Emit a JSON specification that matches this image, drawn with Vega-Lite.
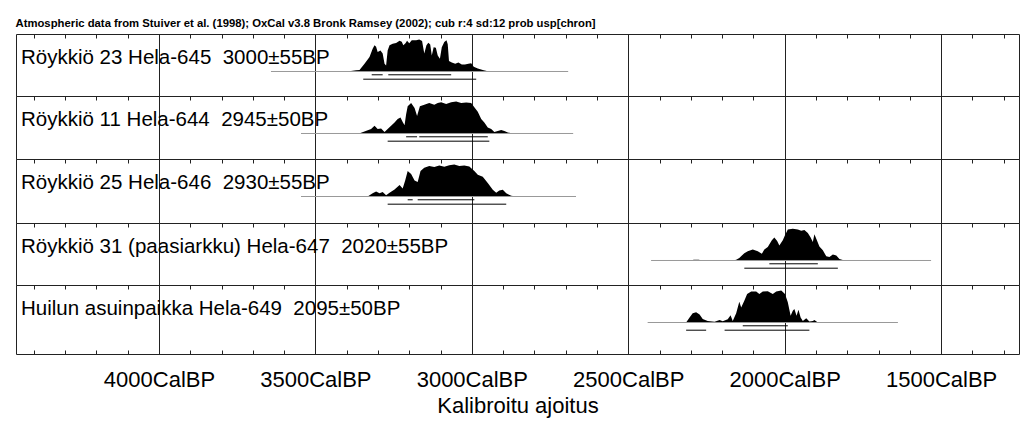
{
  "$schema": "https://vega.github.io/schema/vega-lite/v6.json",
  "padding": {"left": 15, "top": 17, "right": 10, "bottom": 5},
  "title": {"text": "Atmospheric data from Stuiver et al. (1998); OxCal v3.8 Bronk Ramsey (2002); cub r:4 sd:12 prob usp[chron]", "anchor": "start", "fontSize": 11.3, "fontWeight": "bold", "font": "Liberation Sans", "offset": 4, "color": "#000"},
  "spacing": 0,
  "bounds": "flush",
  "config": {
    "view": {"stroke": "#222", "strokeWidth": 1},
    "font": "Liberation Sans",
    "title": {"font": "Liberation Sans"}
  },
  "datasets": {
    "dens": [
      {"s":1,"year":3397,"p":0},{"s":1,"year":3370,"p":0.04},{"s":1,"year":3359,"p":0.05},{"s":1,"year":3343,"p":0.24},{"s":1,"year":3327,"p":0.45},{"s":1,"year":3317,"p":0.71},{"s":1,"year":3311,"p":0.82},{"s":1,"year":3306,"p":0.77},{"s":1,"year":3301,"p":0.61},{"s":1,"year":3292,"p":0.66},{"s":1,"year":3285,"p":0.56},{"s":1,"year":3279,"p":0.24},{"s":1,"year":3274,"p":0.19},{"s":1,"year":3269,"p":0.66},{"s":1,"year":3263,"p":0.82},{"s":1,"year":3253,"p":0.87},{"s":1,"year":3242,"p":0.89},{"s":1,"year":3231,"p":0.96},{"s":1,"year":3224,"p":0.93},{"s":1,"year":3219,"p":0.82},{"s":1,"year":3212,"p":0.88},{"s":1,"year":3207,"p":0.96},{"s":1,"year":3200,"p":0.88},{"s":1,"year":3192,"p":0.98},{"s":1,"year":3178,"p":0.98},{"s":1,"year":3168,"p":1.0},{"s":1,"year":3159,"p":0.95},{"s":1,"year":3152,"p":0.56},{"s":1,"year":3145,"p":0.82},{"s":1,"year":3139,"p":0.9},{"s":1,"year":3133,"p":0.84},{"s":1,"year":3128,"p":0.5},{"s":1,"year":3122,"p":0.76},{"s":1,"year":3115,"p":0.74},{"s":1,"year":3109,"p":0.5},{"s":1,"year":3102,"p":0.4},{"s":1,"year":3096,"p":0.76},{"s":1,"year":3088,"p":0.92},{"s":1,"year":3081,"p":0.98},{"s":1,"year":3077,"p":0.85},{"s":1,"year":3073,"p":0.33},{"s":1,"year":3064,"p":0.28},{"s":1,"year":3053,"p":0.24},{"s":1,"year":3043,"p":0.28},{"s":1,"year":3032,"p":0.22},{"s":1,"year":3022,"p":0.22},{"s":1,"year":3011,"p":0.24},{"s":1,"year":3002,"p":0.26},{"s":1,"year":2994,"p":0.15},{"s":1,"year":2981,"p":0.09},{"s":1,"year":2965,"p":0.05},{"s":1,"year":2949,"p":0.01},{"s":1,"year":2928,"p":0},

      {"s":2,"year":3360,"p":0},{"s":2,"year":3354,"p":0.02},{"s":2,"year":3322,"p":0.14},{"s":2,"year":3311,"p":0.24},{"s":2,"year":3301,"p":0.14},{"s":2,"year":3290,"p":0.16},{"s":2,"year":3279,"p":0.05},{"s":2,"year":3269,"p":0.14},{"s":2,"year":3258,"p":0.24},{"s":2,"year":3247,"p":0.34},{"s":2,"year":3237,"p":0.45},{"s":2,"year":3228,"p":0.5},{"s":2,"year":3221,"p":0.36},{"s":2,"year":3215,"p":0.26},{"s":2,"year":3210,"p":0.6},{"s":2,"year":3205,"p":0.85},{"s":2,"year":3194,"p":0.95},{"s":2,"year":3183,"p":0.8},{"s":2,"year":3175,"p":0.55},{"s":2,"year":3166,"p":0.85},{"s":2,"year":3152,"p":0.9},{"s":2,"year":3136,"p":0.95},{"s":2,"year":3120,"p":0.9},{"s":2,"year":3109,"p":0.95},{"s":2,"year":3098,"p":0.98},{"s":2,"year":3082,"p":0.92},{"s":2,"year":3066,"p":0.98},{"s":2,"year":3050,"p":1.0},{"s":2,"year":3034,"p":0.95},{"s":2,"year":3018,"p":0.97},{"s":2,"year":3002,"p":0.95},{"s":2,"year":2992,"p":0.82},{"s":2,"year":2981,"p":0.68},{"s":2,"year":2970,"p":0.45},{"s":2,"year":2960,"p":0.34},{"s":2,"year":2949,"p":0.19},{"s":2,"year":2938,"p":0.14},{"s":2,"year":2928,"p":0.05},{"s":2,"year":2917,"p":0.08},{"s":2,"year":2906,"p":0.11},{"s":2,"year":2896,"p":0.08},{"s":2,"year":2885,"p":0.03},{"s":2,"year":2869,"p":0},

      {"s":3,"year":3333,"p":0},{"s":3,"year":3317,"p":0.1},{"s":3,"year":3306,"p":0.16},{"s":3,"year":3295,"p":0.1},{"s":3,"year":3285,"p":0.14},{"s":3,"year":3274,"p":0.04},{"s":3,"year":3263,"p":0.12},{"s":3,"year":3247,"p":0.22},{"s":3,"year":3231,"p":0.36},{"s":3,"year":3221,"p":0.25},{"s":3,"year":3213,"p":0.5},{"s":3,"year":3205,"p":0.8},{"s":3,"year":3194,"p":0.7},{"s":3,"year":3183,"p":0.5},{"s":3,"year":3173,"p":0.45},{"s":3,"year":3164,"p":0.8},{"s":3,"year":3152,"p":0.9},{"s":3,"year":3136,"p":0.95},{"s":3,"year":3120,"p":0.92},{"s":3,"year":3104,"p":0.97},{"s":3,"year":3088,"p":0.93},{"s":3,"year":3072,"p":0.98},{"s":3,"year":3056,"p":1.0},{"s":3,"year":3040,"p":0.95},{"s":3,"year":3024,"p":0.97},{"s":3,"year":3008,"p":0.94},{"s":3,"year":2992,"p":0.8},{"s":3,"year":2981,"p":0.68},{"s":3,"year":2965,"p":0.62},{"s":3,"year":2949,"p":0.42},{"s":3,"year":2933,"p":0.21},{"s":3,"year":2922,"p":0.12},{"s":3,"year":2912,"p":0.19},{"s":3,"year":2901,"p":0.21},{"s":3,"year":2890,"p":0.1},{"s":3,"year":2874,"p":0.02},{"s":3,"year":2858,"p":0},

      {"s":4,"year":2305,"p":0},{"s":4,"year":2290,"p":0.025},{"s":4,"year":2275,"p":0.025},{"s":4,"year":2262,"p":0},{"s":4,"year":2165,"p":0},{"s":4,"year":2155,"p":0.02},{"s":4,"year":2145,"p":0.08},{"s":4,"year":2129,"p":0.23},{"s":4,"year":2118,"p":0.29},{"s":4,"year":2102,"p":0.34},{"s":4,"year":2086,"p":0.29},{"s":4,"year":2073,"p":0.21},{"s":4,"year":2065,"p":0.34},{"s":4,"year":2054,"p":0.42},{"s":4,"year":2041,"p":0.63},{"s":4,"year":2033,"p":0.72},{"s":4,"year":2024,"p":0.61},{"s":4,"year":2017,"p":0.47},{"s":4,"year":2006,"p":0.63},{"s":4,"year":1999,"p":0.79},{"s":4,"year":1990,"p":0.97},{"s":4,"year":1974,"p":0.99},{"s":4,"year":1958,"p":0.97},{"s":4,"year":1947,"p":0.93},{"s":4,"year":1937,"p":0.95},{"s":4,"year":1926,"p":0.86},{"s":4,"year":1917,"p":0.72},{"s":4,"year":1910,"p":0.58},{"s":4,"year":1905,"p":0.82},{"s":4,"year":1897,"p":0.63},{"s":4,"year":1889,"p":0.44},{"s":4,"year":1878,"p":0.32},{"s":4,"year":1867,"p":0.13},{"s":4,"year":1857,"p":0.11},{"s":4,"year":1846,"p":0.19},{"s":4,"year":1835,"p":0.16},{"s":4,"year":1825,"p":0.05},{"s":4,"year":1809,"p":0},

      {"s":5,"year":2315,"p":0},{"s":5,"year":2304,"p":0.16},{"s":5,"year":2294,"p":0.29},{"s":5,"year":2283,"p":0.32},{"s":5,"year":2272,"p":0.25},{"s":5,"year":2262,"p":0.11},{"s":5,"year":2246,"p":0.05},{"s":5,"year":2224,"p":0.02},{"s":5,"year":2208,"p":0.08},{"s":5,"year":2198,"p":0.04},{"s":5,"year":2182,"p":0.1},{"s":5,"year":2173,"p":0.23},{"s":5,"year":2166,"p":0.05},{"s":5,"year":2155,"p":0.29},{"s":5,"year":2145,"p":0.65},{"s":5,"year":2139,"p":0.47},{"s":5,"year":2129,"p":0.68},{"s":5,"year":2120,"p":0.89},{"s":5,"year":2107,"p":0.97},{"s":5,"year":2091,"p":0.97},{"s":5,"year":2081,"p":0.89},{"s":5,"year":2070,"p":0.97},{"s":5,"year":2054,"p":0.98},{"s":5,"year":2038,"p":0.89},{"s":5,"year":2027,"p":0.97},{"s":5,"year":2011,"p":1.0},{"s":5,"year":1999,"p":0.89},{"s":5,"year":1990,"p":0.63},{"s":5,"year":1981,"p":0.21},{"s":5,"year":1974,"p":0.37},{"s":5,"year":1969,"p":0.42},{"s":5,"year":1962,"p":0.21},{"s":5,"year":1956,"p":0.4},{"s":5,"year":1949,"p":0.16},{"s":5,"year":1942,"p":0.05},{"s":5,"year":1931,"p":0.13},{"s":5,"year":1921,"p":0.03},{"s":5,"year":1910,"p":0.05},{"s":5,"year":1905,"p":0.08},{"s":5,"year":1894,"p":0}
    ],
    "spans": [
      {"s":1,"start":3642,"end":2692},
      {"s":2,"start":3546,"end":2676},
      {"s":3,"start":3546,"end":2667},
      {"s":4,"start":2427,"end":1532},
      {"s":5,"start":2438,"end":1638}
    ],
    "ranges": [
      {"s":1,"sig":1,"from":3320,"to":3285},{"s":1,"sig":1,"from":3267,"to":3066},{"s":1,"sig":2,"from":3347,"to":2986},
      {"s":2,"sig":1,"from":3210,"to":3175},{"s":2,"sig":1,"from":3168,"to":2949},{"s":2,"sig":2,"from":3269,"to":2944},
      {"s":3,"sig":1,"from":3205,"to":3189},{"s":3,"sig":1,"from":3173,"to":2992},{"s":3,"sig":2,"from":3269,"to":2890},
      {"s":4,"sig":1,"from":2049,"to":1894},{"s":4,"sig":2,"from":2129,"to":1830},
      {"s":5,"sig":1,"from":2134,"to":1990},{"s":5,"sig":2,"from":2315,"to":2251},{"s":5,"sig":2,"from":2192,"to":1921}
    ]
  },
  "vconcat": [
    {
      "width": 1003, "height": 62,
      "title": {"text": "Röykkiö 23 Hela-645 \u00a03000±55BP", "anchor": "start", "offset": 0, "dy": 51, "baseline": "alphabetic", "fontSize": 20.5, "fontWeight": "normal", "dx": 5, "color": "#000"},
      "resolve": {"scale": {"y": "independent"}},
      "layer": [
        {"data": {"name": "dens"}, "transform": [{"filter": "datum.s === 1"}], "mark": {"type": "area", "color": "#000", "opacity": 1},
         "encoding": {"x": {"field": "year", "type": "quantitative", "scale": {"domain": [4457, 1251], "nice": false, "zero": false},
           "axis": {"orient": "top", "values": [4400,4300,4200,4100,4000,3900,3800,3700,3600,3500,3400,3300,3200,3100,3000,2900,2800,2700,2600,2500,2400,2300,2200,2100,2000,1900,1800,1700,1600,1500,1400,1300], "labels": false, "title": null, "domain": false, "ticks": true, "tickSize": -4, "tickColor": "#222", "grid": true, "gridColor": "#222", "gridOpacity": {"condition": {"test": "datum.value % 500 === 0", "value": 1}, "value": 0}}},
          "y": {"field": "p", "type": "quantitative", "scale": {"domain": [-0.766, 1.172]}, "axis": null}}},
        {"data": {"name": "spans"}, "transform": [{"filter": "datum.s === 1"}], "mark": {"type": "rule", "color": "#999", "strokeWidth": 1},
         "encoding": {"x": {"field": "start", "type": "quantitative", "scale": {"domain": [4457, 1251], "nice": false, "zero": false},
           "axis": {"orient": "top", "values": [4400,4300,4200,4100,4000,3900,3800,3700,3600,3500,3400,3300,3200,3100,3000,2900,2800,2700,2600,2500,2400,2300,2200,2100,2000,1900,1800,1700,1600,1500,1400,1300], "labels": false, "title": null, "domain": false, "ticks": true, "tickSize": -4, "tickColor": "#222", "grid": true, "gridColor": "#222", "gridOpacity": {"condition": {"test": "datum.value % 500 === 0", "value": 1}, "value": 0}}},
          "x2": {"field": "end"}, "y": {"datum": 0, "type": "quantitative", "scale": {"domain": [-0.766, 1.172]}, "axis": null}}},
        {"data": {"name": "ranges"}, "transform": [{"filter": "datum.s === 1"}], "mark": {"type": "rule", "color": "#000", "strokeWidth": 1},
         "encoding": {"x": {"field": "from", "type": "quantitative", "scale": {"domain": [4457, 1251], "nice": false, "zero": false},
           "axis": {"orient": "top", "values": [4400,4300,4200,4100,4000,3900,3800,3700,3600,3500,3400,3300,3200,3100,3000,2900,2800,2700,2600,2500,2400,2300,2200,2100,2000,1900,1800,1700,1600,1500,1400,1300], "labels": false, "title": null, "domain": false, "ticks": true, "tickSize": -4, "tickColor": "#222", "grid": true, "gridColor": "#222", "gridOpacity": {"condition": {"test": "datum.value % 500 === 0", "value": 1}, "value": 0}}},
          "x2": {"field": "to"}, "y": {"field": "sig", "type": "quantitative", "scale": {"domain": [-8.27, 5.82], "reverse": true, "nice": false, "zero": false}, "axis": null}}}
      ]
    },
    {
      "width": 1003, "height": 63,
      "title": {"text": "Röykkiö 11 Hela-644 \u00a02945±50BP", "anchor": "start", "offset": 0, "dy": 51, "baseline": "alphabetic", "fontSize": 20.5, "fontWeight": "normal", "dx": 5, "color": "#000"},
      "resolve": {"scale": {"y": "independent"}},
      "layer": [
        {"data": {"name": "dens"}, "transform": [{"filter": "datum.s === 2"}], "mark": {"type": "area", "color": "#000", "opacity": 1},
         "encoding": {"x": {"field": "year", "type": "quantitative", "scale": {"domain": [4457, 1251], "nice": false, "zero": false},
           "axis": {"orient": "top", "values": [4400,4300,4200,4100,4000,3900,3800,3700,3600,3500,3400,3300,3200,3100,3000,2900,2800,2700,2600,2500,2400,2300,2200,2100,2000,1900,1800,1700,1600,1500,1400,1300], "labels": false, "title": null, "domain": false, "ticks": true, "tickSize": -4, "tickColor": "#222", "grid": true, "gridColor": "#222", "gridOpacity": {"condition": {"test": "datum.value % 500 === 0", "value": 1}, "value": 0}}},
          "y": {"field": "p", "type": "quantitative", "scale": {"domain": [-0.797, 1.172]}, "axis": null}}},
        {"data": {"name": "spans"}, "transform": [{"filter": "datum.s === 2"}], "mark": {"type": "rule", "color": "#999", "strokeWidth": 1},
         "encoding": {"x": {"field": "start", "type": "quantitative", "scale": {"domain": [4457, 1251], "nice": false, "zero": false},
           "axis": {"orient": "top", "values": [4400,4300,4200,4100,4000,3900,3800,3700,3600,3500,3400,3300,3200,3100,3000,2900,2800,2700,2600,2500,2400,2300,2200,2100,2000,1900,1800,1700,1600,1500,1400,1300], "labels": false, "title": null, "domain": false, "ticks": true, "tickSize": -4, "tickColor": "#222", "grid": true, "gridColor": "#222", "gridOpacity": {"condition": {"test": "datum.value % 500 === 0", "value": 1}, "value": 0}}},
          "x2": {"field": "end"}, "y": {"datum": 0, "type": "quantitative", "scale": {"domain": [-0.797, 1.172]}, "axis": null}}},
        {"data": {"name": "ranges"}, "transform": [{"filter": "datum.s === 2"}], "mark": {"type": "rule", "color": "#000", "strokeWidth": 1},
         "encoding": {"x": {"field": "from", "type": "quantitative", "scale": {"domain": [4457, 1251], "nice": false, "zero": false},
           "axis": {"orient": "top", "values": [4400,4300,4200,4100,4000,3900,3800,3700,3600,3500,3400,3300,3200,3100,3000,2900,2800,2700,2600,2500,2400,2300,2200,2100,2000,1900,1800,1700,1600,1500,1400,1300], "labels": false, "title": null, "domain": false, "ticks": true, "tickSize": -4, "tickColor": "#222", "grid": true, "gridColor": "#222", "gridOpacity": {"condition": {"test": "datum.value % 500 === 0", "value": 1}, "value": 0}}},
          "x2": {"field": "to"}, "y": {"field": "sig", "type": "quantitative", "scale": {"domain": [-8.27, 6.05], "reverse": true, "nice": false, "zero": false}, "axis": null}}}
      ]
    },
    {
      "width": 1003, "height": 64,
      "title": {"text": "Röykkiö 25 Hela-646 \u00a02930±55BP", "anchor": "start", "offset": 0, "dy": 51, "baseline": "alphabetic", "fontSize": 20.5, "fontWeight": "normal", "dx": 5, "color": "#000"},
      "resolve": {"scale": {"y": "independent"}},
      "layer": [
        {"data": {"name": "dens"}, "transform": [{"filter": "datum.s === 3"}], "mark": {"type": "area", "color": "#000", "opacity": 1},
         "encoding": {"x": {"field": "year", "type": "quantitative", "scale": {"domain": [4457, 1251], "nice": false, "zero": false},
           "axis": {"orient": "top", "values": [4400,4300,4200,4100,4000,3900,3800,3700,3600,3500,3400,3300,3200,3100,3000,2900,2800,2700,2600,2500,2400,2300,2200,2100,2000,1900,1800,1700,1600,1500,1400,1300], "labels": false, "title": null, "domain": false, "ticks": true, "tickSize": -4, "tickColor": "#222", "grid": true, "gridColor": "#222", "gridOpacity": {"condition": {"test": "datum.value % 500 === 0", "value": 1}, "value": 0}}},
          "y": {"field": "p", "type": "quantitative", "scale": {"domain": [-0.828, 1.172]}, "axis": null}}},
        {"data": {"name": "spans"}, "transform": [{"filter": "datum.s === 3"}], "mark": {"type": "rule", "color": "#999", "strokeWidth": 1},
         "encoding": {"x": {"field": "start", "type": "quantitative", "scale": {"domain": [4457, 1251], "nice": false, "zero": false},
           "axis": {"orient": "top", "values": [4400,4300,4200,4100,4000,3900,3800,3700,3600,3500,3400,3300,3200,3100,3000,2900,2800,2700,2600,2500,2400,2300,2200,2100,2000,1900,1800,1700,1600,1500,1400,1300], "labels": false, "title": null, "domain": false, "ticks": true, "tickSize": -4, "tickColor": "#222", "grid": true, "gridColor": "#222", "gridOpacity": {"condition": {"test": "datum.value % 500 === 0", "value": 1}, "value": 0}}},
          "x2": {"field": "end"}, "y": {"datum": 0, "type": "quantitative", "scale": {"domain": [-0.828, 1.172]}, "axis": null}}},
        {"data": {"name": "ranges"}, "transform": [{"filter": "datum.s === 3"}], "mark": {"type": "rule", "color": "#000", "strokeWidth": 1},
         "encoding": {"x": {"field": "from", "type": "quantitative", "scale": {"domain": [4457, 1251], "nice": false, "zero": false},
           "axis": {"orient": "top", "values": [4400,4300,4200,4100,4000,3900,3800,3700,3600,3500,3400,3300,3200,3100,3000,2900,2800,2700,2600,2500,2400,2300,2200,2100,2000,1900,1800,1700,1600,1500,1400,1300], "labels": false, "title": null, "domain": false, "ticks": true, "tickSize": -4, "tickColor": "#222", "grid": true, "gridColor": "#222", "gridOpacity": {"condition": {"test": "datum.value % 500 === 0", "value": 1}, "value": 0}}},
          "x2": {"field": "to"}, "y": {"field": "sig", "type": "quantitative", "scale": {"domain": [-8.27, 6.28], "reverse": true, "nice": false, "zero": false}, "axis": null}}}
      ]
    },
    {
      "width": 1003, "height": 62,
      "title": {"text": "Röykkiö 31 (paasiarkku) Hela-647 \u00a02020±55BP", "anchor": "start", "offset": 0, "dy": 51, "baseline": "alphabetic", "fontSize": 20.5, "fontWeight": "normal", "dx": 5, "color": "#000"},
      "resolve": {"scale": {"y": "independent"}},
      "layer": [
        {"data": {"name": "dens"}, "transform": [{"filter": "datum.s === 4"}], "mark": {"type": "area", "color": "#000", "opacity": 1},
         "encoding": {"x": {"field": "year", "type": "quantitative", "scale": {"domain": [4457, 1251], "nice": false, "zero": false},
           "axis": {"orient": "top", "values": [4400,4300,4200,4100,4000,3900,3800,3700,3600,3500,3400,3300,3200,3100,3000,2900,2800,2700,2600,2500,2400,2300,2200,2100,2000,1900,1800,1700,1600,1500,1400,1300], "labels": false, "title": null, "domain": false, "ticks": true, "tickSize": -4, "tickColor": "#222", "grid": true, "gridColor": "#222", "gridOpacity": {"condition": {"test": "datum.value % 500 === 0", "value": 1}, "value": 0}}},
          "y": {"field": "p", "type": "quantitative", "scale": {"domain": [-0.766, 1.172]}, "axis": null}}},
        {"data": {"name": "spans"}, "transform": [{"filter": "datum.s === 4"}], "mark": {"type": "rule", "color": "#999", "strokeWidth": 1},
         "encoding": {"x": {"field": "start", "type": "quantitative", "scale": {"domain": [4457, 1251], "nice": false, "zero": false},
           "axis": {"orient": "top", "values": [4400,4300,4200,4100,4000,3900,3800,3700,3600,3500,3400,3300,3200,3100,3000,2900,2800,2700,2600,2500,2400,2300,2200,2100,2000,1900,1800,1700,1600,1500,1400,1300], "labels": false, "title": null, "domain": false, "ticks": true, "tickSize": -4, "tickColor": "#222", "grid": true, "gridColor": "#222", "gridOpacity": {"condition": {"test": "datum.value % 500 === 0", "value": 1}, "value": 0}}},
          "x2": {"field": "end"}, "y": {"datum": 0, "type": "quantitative", "scale": {"domain": [-0.766, 1.172]}, "axis": null}}},
        {"data": {"name": "ranges"}, "transform": [{"filter": "datum.s === 4"}], "mark": {"type": "rule", "color": "#000", "strokeWidth": 1},
         "encoding": {"x": {"field": "from", "type": "quantitative", "scale": {"domain": [4457, 1251], "nice": false, "zero": false},
           "axis": {"orient": "top", "values": [4400,4300,4200,4100,4000,3900,3800,3700,3600,3500,3400,3300,3200,3100,3000,2900,2800,2700,2600,2500,2400,2300,2200,2100,2000,1900,1800,1700,1600,1500,1400,1300], "labels": false, "title": null, "domain": false, "ticks": true, "tickSize": -4, "tickColor": "#222", "grid": true, "gridColor": "#222", "gridOpacity": {"condition": {"test": "datum.value % 500 === 0", "value": 1}, "value": 0}}},
          "x2": {"field": "to"}, "y": {"field": "sig", "type": "quantitative", "scale": {"domain": [-8.27, 5.82], "reverse": true, "nice": false, "zero": false}, "axis": null}}}
      ]
    },
    {
      "width": 1003, "height": 69,
      "title": {"text": "Huilun asuinpaikka Hela-649 \u00a02095±50BP", "anchor": "start", "offset": 0, "dy": 51, "baseline": "alphabetic", "fontSize": 20.5, "fontWeight": "normal", "dx": 5, "color": "#000"},
      "resolve": {"scale": {"y": "independent"}, "axis": {"x": "independent"}},
      "layer": [
        {"data": {"name": "dens"}, "transform": [{"filter": "datum.s === 5"}], "mark": {"type": "area", "color": "#000", "opacity": 1},
         "encoding": {"x": {"field": "year", "type": "quantitative", "scale": {"domain": [4457, 1251], "nice": false, "zero": false},
           "axis": {"orient": "top", "values": [4400,4300,4200,4100,4000,3900,3800,3700,3600,3500,3400,3300,3200,3100,3000,2900,2800,2700,2600,2500,2400,2300,2200,2100,2000,1900,1800,1700,1600,1500,1400,1300], "labels": false, "title": null, "domain": false, "ticks": true, "tickSize": -4, "tickColor": "#222", "grid": true, "gridColor": "#222", "gridOpacity": {"condition": {"test": "datum.value % 500 === 0", "value": 1}, "value": 0}}},
          "y": {"field": "p", "type": "quantitative", "scale": {"domain": [-0.984, 1.172]}, "axis": null}}},
        {"data": {"name": "spans"}, "transform": [{"filter": "datum.s === 5"}], "mark": {"type": "rule", "color": "#999", "strokeWidth": 1},
         "encoding": {"x": {"field": "start", "type": "quantitative", "scale": {"domain": [4457, 1251], "nice": false, "zero": false},
           "axis": {"orient": "bottom", "values": [4400,4300,4200,4100,4000,3900,3800,3700,3600,3500,3400,3300,3200,3100,3000,2900,2800,2700,2600,2500,2400,2300,2200,2100,2000,1900,1800,1700,1600,1500,1400,1300], "grid": false, "domain": false, "ticks": true, "tickSize": -4, "tickColor": "#222", "labels": true, "labelExpr": "datum.value % 500 === 0 ? datum.value + 'CalBP' : ''", "labelFontSize": 22, "labelColor": "#000", "labelPadding": 19, "labelFlush": false, "labelOverlap": false, "title": "Kalibroitu ajoitus", "titleFontSize": 22, "titleFontWeight": "normal", "titleColor": "#000", "titlePadding": 5}},
          "x2": {"field": "end"}, "y": {"datum": 0, "type": "quantitative", "scale": {"domain": [-0.984, 1.172]}, "axis": null}}},
        {"data": {"name": "ranges"}, "transform": [{"filter": "datum.s === 5"}], "mark": {"type": "rule", "color": "#000", "strokeWidth": 1},
         "encoding": {"x": {"field": "from", "type": "quantitative", "scale": {"domain": [4457, 1251], "nice": false, "zero": false}, "axis": null},
          "x2": {"field": "to"}, "y": {"field": "sig", "type": "quantitative", "scale": {"domain": [-8.27, 7.41], "reverse": true, "nice": false, "zero": false}, "axis": null}}}
      ]
    }
  ]
}
